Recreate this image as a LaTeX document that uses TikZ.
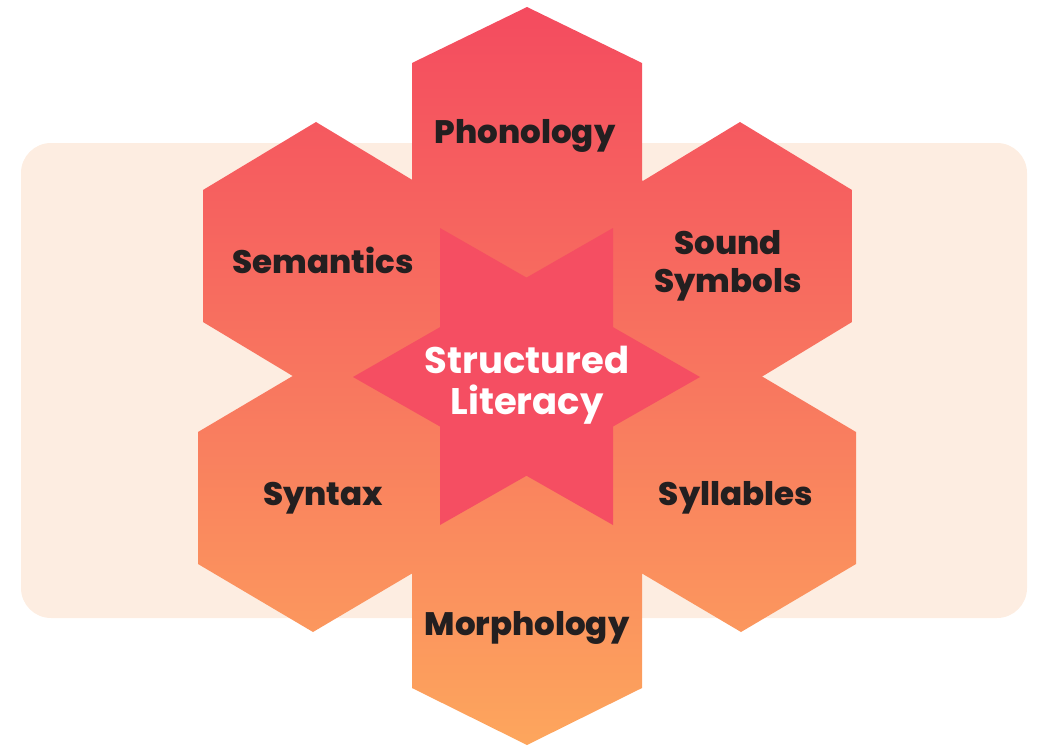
\documentclass[tikz,border=0pt]{standalone}
\usepackage{fontspec}
\setmainfont{Poppins}[BoldFont={Poppins ExtraBold}]
\newfontfamily\centrefont{Poppins}[BoldFont={Poppins Bold}]
\definecolor{bgpeach}{HTML}{FDEDE1}
\definecolor{hextop}{HTML}{F44B5F}
\definecolor{hexmid}{HTML}{F8765F}
\definecolor{hexbot}{HTML}{FDA65D}
\definecolor{starred}{HTML}{F54E62}
\definecolor{labeldark}{HTML}{231F20}
\newcommand\myhexpath[5]{({#1},{#2-#4-#5}) -- ({#1+#3},{#2-#4}) -- ({#1+#3},{#2+#4}) -- ({#1},{#2+#4+#5}) -- ({#1-#3},{#2+#4}) -- ({#1-#3},{#2-#4}) -- cycle}
\newcommand\gradfill{\shade[top color=hextop, bottom color=hexbot, middle color=hexmid] (0,7) rectangle (1043,745);}
\newcommand\myhex[5]{\begin{scope}\clip \myhexpath{#1}{#2}{#3}{#4}{#5};\gradfill\end{scope}}
\begin{document}
\begin{tikzpicture}[x=1pt,y=-1pt,
  lbl/.style={font=\fontsize{32.5}{38}\selectfont\bfseries, text=labeldark, align=center, inner sep=0pt},
  centrelbl/.style={font=\centrefont\fontsize{37}{41}\selectfont\bfseries, text=white, align=center, inner sep=0pt}]
\useasboundingbox (0,0) rectangle (1043,749);
\fill[bgpeach, rounded corners=30pt] (21,143) rectangle (1027,618);
\myhex{527}{129}{115}{66}{56}
\myhex{527}{622}{115}{66}{57}
\myhex{316}{256}{113}{66}{68}
\myhex{740}{256}{112}{66}{68}
\myhex{313}{498}{115}{66}{68}
\myhex{741}{498}{115}{66}{68}
\begin{scope}
  \clip (412,180) -- (642,180) -- (760,377) -- (642,574) -- (412,574) -- (295,377) -- cycle;
  \gradfill
\end{scope}
\fill[starred] (440,228) -- (700,377) -- (440,525) -- cycle;
\fill[starred] (613,228) -- (353,377) -- (613,525) -- cycle;
\node[lbl, anchor=base] (phon) at (525,143) {Phonology};
\node[lbl, anchor=base] (sem) at (323,273) {Semantics};
\node[lbl] (sound) at (728,266) {Sound\\Symbols};
\node[centrelbl] (sl) at (527,385) {Structured\\Literacy};
\node[lbl, anchor=base] (syn) at (323,505) {Syntax};
\node[lbl, anchor=base] (syl) at (736,505) {Syllables};
\node[lbl, anchor=base] (morph) at (527,635) {Morphology};
\end{tikzpicture}
\end{document}
